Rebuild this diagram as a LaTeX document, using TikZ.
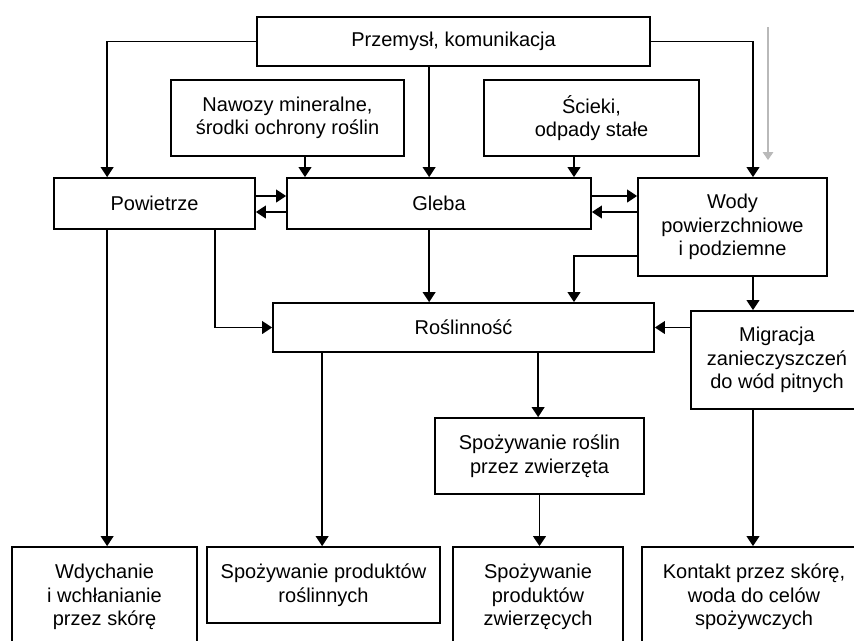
\documentclass[tikz,border=0pt]{standalone}
\usepackage{fontspec}
\setmainfont{Liberation Sans}
\usetikzlibrary{arrows.meta,calc}
\begin{document}
\begin{tikzpicture}[x=0.75pt,y=-0.75pt,
  box/.style={draw, line width=1.3pt, align=center, inner sep=0pt, font=\fontsize{15}{17.6}\selectfont},
  sz/.style 2 args={minimum width=#1*0.75pt, minimum height=#2*0.75pt},
  arr/.style={line width=1.3pt, -{Triangle[length=7.5pt,width=9.5pt]}},
  grayarr/.style={gray!55, line width=0.8pt, -{Triangle[length=6pt,width=8pt]}}]
\useasboundingbox (0,0) rectangle (854,640);
\clip (0,0) rectangle (854,640);

\node[box, sz={393}{49}] (prz) at (453.5,41.5) {Przemysł, komunikacja};
\node[box, sz={233}{76}] (naw) at (287.5,118) {Nawozy mineralne,\\ środki ochrony roślin};
\node[box, sz={215}{76}] (sci) at (591.5,118) {Ścieki,\\ odpady stałe};
\node[box, sz={201}{51}] (pow) at (154.5,203.5) {Powietrze};
\node[box, sz={304}{51}] (gle) at (439,203.5) {Gleba};
\node[box, sz={189}{98}] (wod) at (732.5,227) {Wody\\ powierzchniowe\\ i podziemne};
\node[box, sz={381}{49}] (ros) at (463.5,327.5) {Roślinność};
\node[box, sz={172}{98}] (mig) at (777,360) {Migracja\\ zanieczyszczeń\\ do wód pitnych};
\node[box, sz={209}{76}] (spr) at (539.5,456) {Spożywanie roślin\\ przez zwierzęta};
\node[box, sz={185}{100}] (wdy) at (104.5,597) {Wdychanie\\ i wchłanianie\\ przez skórę};
\node[box, sz={233}{76}] (spp) at (323.5,585) {Spożywanie produktów\\ roślinnych};
\node[box, sz={170}{100}] (spz) at (538,597) {Spożywanie\\ produktów\\ zwierzęcych};
\node[box, sz={224}{100}] (kon) at (754,597) {Kontakt przez skórę,\\ woda do celów\\ spożywczych};

\coordinate (g1) at ($(gle.north west)+(143,0)$);
\coordinate (n1) at ($(naw.south)+(17.5,0)$);
\coordinate (s1) at ($(sci.south)+(-17.5,0)$);
\coordinate (ge1) at ($(gle.east)+(0,-7.5)$);
\coordinate (ge2) at ($(gle.east)+(0,8.5)$);
\coordinate (pe1) at ($(pow.east)+(0,-7.5)$);
\coordinate (pe2) at ($(pow.east)+(0,8.5)$);
\coordinate (w1) at ($(wod.west)+(0,29)$);
\coordinate (w2) at ($(wod.south)+(20.5,0)$);
\coordinate (p1) at ($(pow.south west)+(162,0)$);
\coordinate (p2) at ($(pow.south west)+(54,0)$);
\coordinate (r1) at ($(ros.south west)+(50,0)$);
\coordinate (r2) at ($(ros.south west)+(266,0)$);
\coordinate (gr0) at (768,27);
\coordinate (gr1) at (768,160);

\draw[arr] (prz.west) -| (p2 |- pow.north);
\draw[arr] (prz.south -| g1) -- (g1);
\draw[arr] (n1) -- (n1 |- gle.north);
\draw[arr] (s1) -- (s1 |- gle.north);
\draw[arr] (prz.east) -| (w2 |- wod.north);
\draw[grayarr] (gr0) -- (gr1);
\draw[arr] (pe1) -- (pe1 -| gle.west);
\draw[arr] (pe2 -| gle.west) -- (pe2);
\draw[arr] (ge1) -- (ge1 -| wod.west);
\draw[arr] (ge2 -| wod.west) -- (ge2);
\draw[arr] (gle.south -| g1) -- (g1 |- ros.north);
\draw[arr] (w1) -| (s1 |- ros.north);
\draw[arr] (w2) -- (w2 |- mig.north);
\draw[arr] (p1) |- (ros.west);
\draw[arr] (p2) -- (p2 |- wdy.north);
\draw[arr] (ros.east -| mig.west) -- (ros.east);
\draw[arr] (r1) -- (r1 |- spp.north);
\draw[arr] (r2) -- (r2 |- spr.north);
\draw[arr] (spr.south) -- (spr.south |- spz.north);
\draw[arr] (w2 |- mig.south) -- (w2 |- kon.north);
\end{tikzpicture}
\end{document}
